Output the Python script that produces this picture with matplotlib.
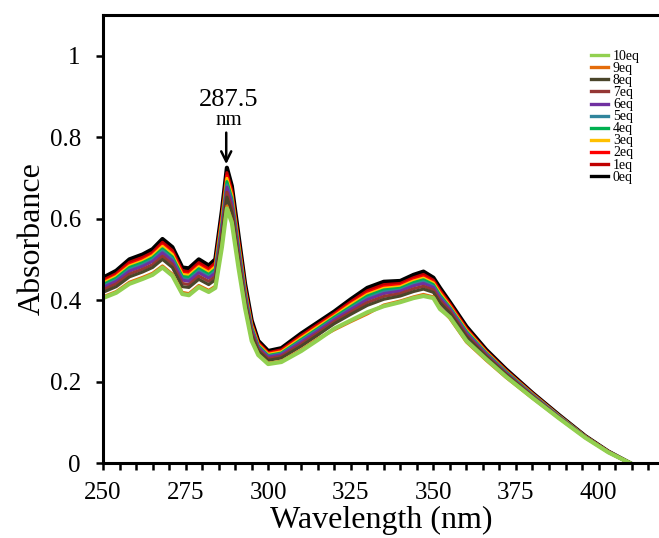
import matplotlib
matplotlib.use("Agg")
import matplotlib.pyplot as plt
from matplotlib.ticker import MultipleLocator, FixedLocator

plt.rcParams["font.family"] = ["Liberation Serif", "DejaVu Serif"]

# wavelength grid (nm)
wavelength = [250, 254, 258, 262, 265, 268, 271, 274, 276, 279, 282, 284, 286, 287.5,
              289, 291, 293, 295, 297, 300, 304, 310, 315, 320, 325, 330, 335, 340,
              344, 347, 350, 352, 355, 360, 366, 372, 380, 388, 396, 403, 409.5]

eq0 = [0.455, 0.472, 0.500, 0.512, 0.525, 0.550, 0.530, 0.480, 0.478, 0.500, 0.485, 0.500, 0.620, 0.725,
       0.680, 0.560, 0.440, 0.350, 0.300, 0.275, 0.282, 0.318, 0.345, 0.372, 0.402, 0.430, 0.445, 0.447,
       0.462, 0.470, 0.455, 0.430, 0.395, 0.335, 0.278, 0.230, 0.172, 0.118, 0.066, 0.028, 0.0]
eq1 = [0.449, 0.465, 0.493, 0.505, 0.517, 0.542, 0.522, 0.472, 0.470, 0.492, 0.477, 0.492, 0.609, 0.713,
       0.669, 0.550, 0.433, 0.344, 0.296, 0.271, 0.278, 0.313, 0.340, 0.367, 0.396, 0.423, 0.438, 0.441,
       0.455, 0.463, 0.449, 0.424, 0.391, 0.331, 0.275, 0.228, 0.171, 0.117, 0.066, 0.028, 0.0]
eq2 = [0.445, 0.461, 0.488, 0.500, 0.512, 0.536, 0.516, 0.467, 0.465, 0.486, 0.472, 0.486, 0.602, 0.705,
       0.662, 0.544, 0.428, 0.340, 0.293, 0.269, 0.275, 0.309, 0.336, 0.364, 0.392, 0.418, 0.433, 0.437,
       0.451, 0.458, 0.445, 0.420, 0.388, 0.328, 0.273, 0.226, 0.170, 0.116, 0.065, 0.028, 0.0]
eq3 = [0.442, 0.458, 0.484, 0.496, 0.509, 0.532, 0.512, 0.463, 0.461, 0.482, 0.468, 0.482, 0.597, 0.699,
       0.657, 0.539, 0.424, 0.337, 0.291, 0.267, 0.273, 0.307, 0.334, 0.361, 0.389, 0.414, 0.429, 0.433,
       0.447, 0.454, 0.442, 0.417, 0.385, 0.326, 0.272, 0.225, 0.169, 0.116, 0.065, 0.027, 0.0]
eq4 = [0.438, 0.454, 0.480, 0.492, 0.504, 0.526, 0.506, 0.458, 0.456, 0.477, 0.463, 0.476, 0.589, 0.691,
       0.649, 0.533, 0.420, 0.333, 0.288, 0.264, 0.270, 0.303, 0.330, 0.358, 0.384, 0.410, 0.425, 0.429,
       0.443, 0.450, 0.438, 0.412, 0.382, 0.323, 0.270, 0.224, 0.168, 0.115, 0.065, 0.027, 0.0]
eq5 = [0.434, 0.449, 0.475, 0.487, 0.499, 0.521, 0.501, 0.453, 0.450, 0.471, 0.458, 0.471, 0.582, 0.683,
       0.642, 0.526, 0.415, 0.329, 0.285, 0.262, 0.268, 0.300, 0.327, 0.354, 0.380, 0.405, 0.420, 0.425,
       0.438, 0.445, 0.434, 0.408, 0.380, 0.320, 0.268, 0.222, 0.167, 0.115, 0.064, 0.027, 0.0]
eq6 = [0.431, 0.446, 0.471, 0.483, 0.495, 0.516, 0.496, 0.449, 0.446, 0.467, 0.454, 0.466, 0.577, 0.677,
       0.637, 0.522, 0.411, 0.326, 0.283, 0.260, 0.266, 0.297, 0.324, 0.352, 0.377, 0.401, 0.416, 0.422,
       0.435, 0.441, 0.431, 0.405, 0.377, 0.318, 0.267, 0.221, 0.166, 0.114, 0.064, 0.027, 0.0]
eq7 = [0.425, 0.440, 0.464, 0.476, 0.487, 0.508, 0.488, 0.441, 0.438, 0.459, 0.446, 0.458, 0.566, 0.665,
       0.626, 0.512, 0.404, 0.320, 0.279, 0.256, 0.262, 0.292, 0.319, 0.347, 0.371, 0.394, 0.409, 0.416,
       0.428, 0.434, 0.425, 0.399, 0.373, 0.314, 0.264, 0.219, 0.165, 0.113, 0.064, 0.027, 0.0]
eq8 = [0.419, 0.433, 0.457, 0.469, 0.480, 0.500, 0.480, 0.433, 0.431, 0.451, 0.438, 0.450, 0.555, 0.653,
       0.615, 0.502, 0.397, 0.314, 0.275, 0.252, 0.258, 0.287, 0.314, 0.342, 0.365, 0.387, 0.402, 0.410,
       0.421, 0.427, 0.419, 0.393, 0.368, 0.310, 0.261, 0.217, 0.163, 0.112, 0.063, 0.027, 0.0]
eq9 = [0.408, 0.421, 0.444, 0.456, 0.466, 0.484, 0.464, 0.419, 0.416, 0.436, 0.424, 0.434, 0.535, 0.631,
       0.595, 0.485, 0.384, 0.303, 0.267, 0.245, 0.250, 0.278, 0.305, 0.327, 0.347, 0.366, 0.388, 0.398,
       0.408, 0.414, 0.408, 0.381, 0.355, 0.297, 0.252, 0.210, 0.159, 0.110, 0.062, 0.026, 0.0]
eq10 = [0.405, 0.418, 0.440, 0.452, 0.462, 0.480, 0.460, 0.415, 0.412, 0.432, 0.420, 0.430, 0.530, 0.625,
        0.590, 0.480, 0.380, 0.300, 0.265, 0.243, 0.248, 0.275, 0.302, 0.330, 0.350, 0.370, 0.385, 0.395,
        0.405, 0.410, 0.405, 0.378, 0.358, 0.300, 0.255, 0.212, 0.160, 0.110, 0.062, 0.026, 0.0]

labels = ["0eq", "1eq", "2eq", "3eq", "4eq", "5eq", "6eq", "7eq", "8eq", "9eq", "10eq"]
series = [eq0, eq1, eq2, eq3, eq4, eq5, eq6, eq7, eq8, eq9, eq10]
colors = ["#000000", "#C00000", "#FF0000", "#FFC000", "#00B050", "#31859C",
          "#7030A0", "#953735", "#4A452A", "#E46C0A", "#92D050"]

fig = plt.figure(figsize=(6.59, 5.38), dpi=100)
ax = fig.add_axes([0.1563, 0.1394, 0.8437, 0.8327])

lines = []
for lab, ys, c in zip(labels, series, colors):
    lw = 3.0 if lab in ("0eq", "10eq") else 2.2
    ln, = ax.plot(wavelength, ys, color=c, lw=lw, label=lab, solid_joinstyle="round")
    lines.append(ln)

ax.set_xlim(250, 418.3)
ax.set_ylim(0, 1.1)

ax.xaxis.set_major_locator(MultipleLocator(25))
ax.xaxis.set_minor_locator(MultipleLocator(5))
ax.set_xticks([250, 275, 300, 325, 350, 375, 400])
ax.yaxis.set_major_locator(FixedLocator([0, 0.2, 0.4, 0.6, 0.8, 1.0]))
ax.set_yticklabels(["0", "0.2", "0.4", "0.6", "0.8", "1"])

ax.tick_params(axis="x", which="both", direction="out", length=5, width=1.8,
               labelsize=18, pad=9)
ax.tick_params(axis="y", which="major", direction="out", length=5, width=1.8,
               labelsize=18, pad=11)

for side in ("left", "bottom", "top"):
    ax.spines[side].set_linewidth(2.2)
ax.spines["right"].set_visible(False)

ax.set_xlabel("Wavelength (nm)", fontsize=23, labelpad=1)
ax.set_ylabel("Absorbance", fontsize=23, labelpad=2)

# peak annotation
ax.annotate("", xy=(287.3, 0.727), xytext=(287.3, 0.818),
            arrowprops=dict(arrowstyle="->", color="black", lw=1.8, mutation_scale=18))
ax.text(288.0, 0.876, "287.5", fontsize=19, ha="center", va="baseline")
ax.text(288.0, 0.829, "nm", fontsize=15, ha="center", va="baseline")

leg = ax.legend(lines[::-1], labels[::-1], loc="upper left",
                bbox_to_anchor=(0.861, 0.943), frameon=False, fontsize=10,
                handlelength=1.2, handletextpad=0.35, labelspacing=-0.07,
                borderpad=0.2)
for h in leg.legend_handles:
    h.set_linewidth(2.4)

fig.savefig("out.png", dpi=100)
